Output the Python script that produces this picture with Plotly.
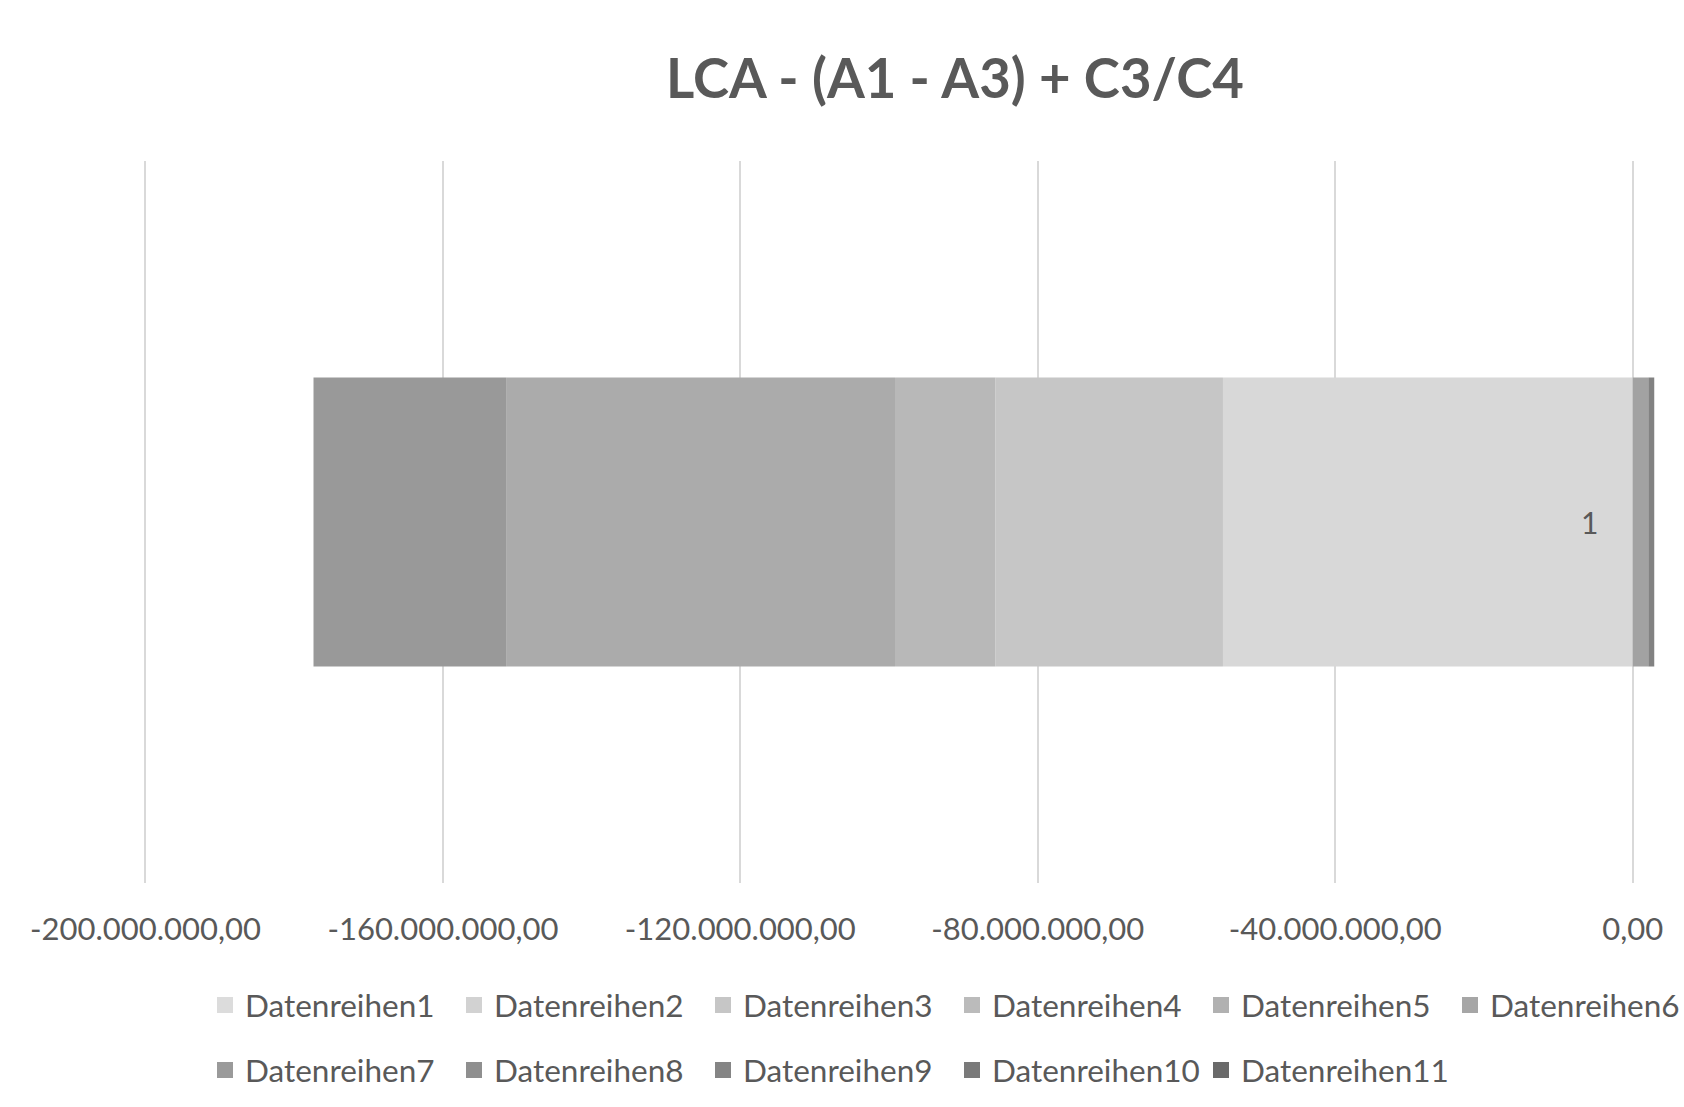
import plotly.graph_objects as go

categories = [1]
series_names = [f"Datenreihen{i}" for i in range(1, 12)]
series_values = [
    [-55.1e6],   # Datenreihen1
    [-30.6e6],   # Datenreihen2
    [-13.5e6],   # Datenreihen3
    [-52.3e6],   # Datenreihen4
    [-25.9e6],   # Datenreihen5
    [2.1e6],     # Datenreihen6
    [0.0],       # Datenreihen7
    [0.0],       # Datenreihen8
    [0.8e6],     # Datenreihen9
    [0.0],       # Datenreihen10
    [0.0],       # Datenreihen11
]
tick_values = [-200e6, -160e6, -120e6, -80e6, -40e6, 0]
tick_labels = ["-200.000.000,00", "-160.000.000,00", "-120.000.000,00",
               "-80.000.000,00", "-40.000.000,00", "0,00"]
title_text = "LCA - (A1 - A3) + C3/C4"

colors = ["#d8d8d8", "#c6c6c6", "#b8b8b8", "#ababab", "#999999", "#a2a2a2",
          "#969696", "#8b8b8b", "#828282", "#777777", "#666666"]
legend_colors = ["#dcdcdc", "#d2d2d2", "#c6c6c6", "#bbbbbb", "#b1b1b1", "#a6a6a6",
                 "#9a9a9a", "#8f8f8f", "#858585", "#7a7a7a", "#6a6a6a"]

FONT = "Lato"
TXT = "#595959"

fig = go.Figure()
for i, (name, vals) in enumerate(zip(series_names, series_values)):
    fig.add_trace(go.Bar(
        y=categories, x=vals, name=name, orientation="h", width=0.4,
        marker=dict(color=colors[i], line=dict(width=0)),
        showlegend=False, legendgroup=name,
    ))
# legend entries (square swatches)
for i, name in enumerate(series_names):
    fig.add_trace(go.Scatter(
        x=[None], y=[None], mode="markers", name=name, legendgroup=name,
        marker=dict(symbol="square", size=16, color=legend_colors[i]),
        legend="legend" if i < 6 else "legend2", showlegend=True,
        hoverinfo="skip",
    ))

fig.add_annotation(x=0, y=categories[0], xref="x", yref="y", text=str(categories[0]),
                   showarrow=False, xanchor="right", yanchor="middle", xshift=-33,
                   font=dict(family=FONT, size=30, color=TXT))

legend_common = dict(orientation="h", xref="container", yref="container",
                     xanchor="left", yanchor="middle",
                     entrywidth=204, entrywidthmode="pixels",
                     font=dict(family=FONT, size=31.5, color=TXT),
                     bgcolor="rgba(0,0,0,0)", traceorder="normal",
                     itemsizing="trace")

fig.update_layout(
    width=1684, height=1107,
    paper_bgcolor="white", plot_bgcolor="white",
    barmode="relative",
    margin=dict(l=137.6, r=0, t=161, b=224, autoexpand=False),
    title=dict(text=f"<b>{title_text}</b>", x=955/1684, xanchor="center",
               y=1 - 79/1107, yanchor="middle", yref="container",
               font=dict(family=FONT, size=54.5, color=TXT)),
    xaxis=dict(range=[-201e6, 6.9e6], tickvals=tick_values, ticktext=tick_labels,
               showgrid=True, gridcolor="#d9d9d9", gridwidth=2, zeroline=False,
               showline=False, ticks="", ticklabelstandoff=25, automargin=False,
               tickfont=dict(family=FONT, size=31, color=TXT), fixedrange=True),
    yaxis=dict(range=[0.5, 1.5], showticklabels=False, showgrid=False, zeroline=False,
               showline=False, ticks="", fixedrange=True, automargin=False),
    legend=dict(**legend_common, x=205/1684, y=1 - 1005/1107),
    legend2=dict(**legend_common, x=205/1684, y=1 - 1070/1107),
    showlegend=True,
)

fig.write_html("out.html", config={"displayModeBar": False},
               post_script="document.body.style.margin='0';")
